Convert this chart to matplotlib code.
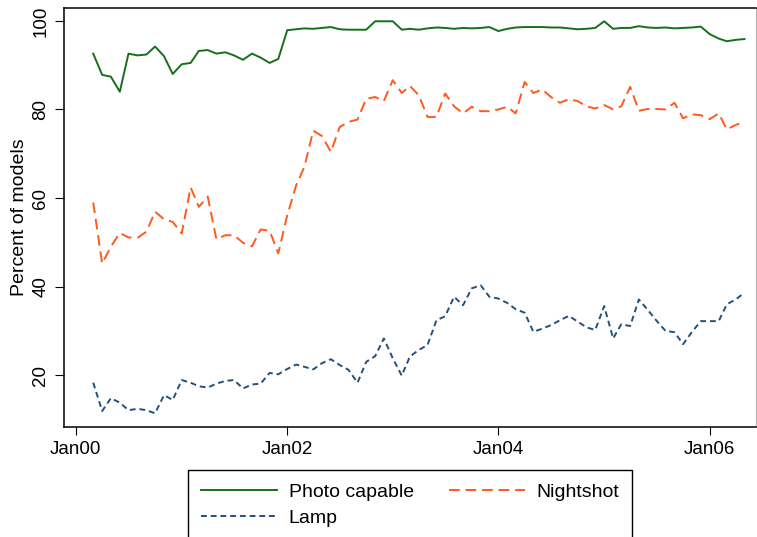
import matplotlib
matplotlib.use('Agg')
import matplotlib.pyplot as plt
import matplotlib.dates as mdates
import pandas as pd

plt.rcParams['font.family'] = ['Liberation Sans', 'DejaVu Sans']

# monthly observations, Mar 2000 - May 2006
months = pd.date_range('2000-03-01', periods=75, freq='MS')

photo_capable = [
    92.6, 87.8, 87.4, 84.0, 92.6, 92.2, 92.4, 94.2, 92.0, 88.0,              # 2000
    90.2, 90.5, 93.2, 93.4, 92.6, 92.9, 92.2, 91.2, 92.6, 91.7, 90.5, 91.4,  # 2001
    97.9, 98.1, 98.3, 98.2, 98.4, 98.6, 98.1, 98.0, 98.0, 98.0, 99.9, 99.9,  # 2002
    99.9, 98.0, 98.2, 98.0, 98.3, 98.5, 98.4, 98.2, 98.4, 98.3, 98.4, 98.6,  # 2003
    97.7, 98.2, 98.5, 98.6, 98.6, 98.6, 98.5, 98.5, 98.3, 98.1, 98.2, 98.4,  # 2004
    99.9, 98.2, 98.4, 98.4, 98.8, 98.5, 98.4, 98.5, 98.3, 98.4, 98.5, 98.7,  # 2005
    97.0, 96.0, 95.4, 95.7, 95.9,                                            # 2006
]
nightshot = [
    59.0, 45.2, 49.0, 52.1, 51.1, 51.0, 52.4, 56.9, 55.2, 54.6,
    52.0, 62.4, 58.0, 60.3, 50.7, 51.6, 51.6, 49.9, 49.1, 52.9, 52.6, 47.5,
    56.1, 62.9, 67.0, 75.2, 74.0, 70.4, 76.0, 77.2, 77.7, 82.4, 82.8, 81.9,
    86.6, 83.7, 85.3, 83.2, 78.3, 78.3, 83.6, 80.7, 79.1, 80.6, 79.6, 79.6,
    80.0, 80.6, 79.1, 86.2, 83.7, 84.5, 82.8, 81.5, 82.3, 81.9, 80.7, 80.2,
    81.0, 80.0, 80.7, 85.1, 79.7, 80.1, 80.1, 80.0, 81.5, 78.0, 78.9, 78.7,
    77.8, 79.1, 75.5, 76.5, 77.2,
]
lamp = [
    18.3, 11.9, 14.8, 13.8, 12.1, 12.4, 12.1, 11.4, 15.5, 14.4,
    18.9, 18.3, 17.5, 17.2, 18.1, 18.7, 18.9, 17.0, 17.9, 18.1, 20.5, 20.2,
    21.4, 22.4, 21.9, 21.3, 22.7, 23.6, 22.3, 21.2, 18.3, 23.0, 24.3, 28.3,
    23.8, 19.9, 24.2, 25.7, 26.8, 32.4, 33.3, 37.7, 35.8, 39.6, 40.3, 37.7,
    37.3, 36.3, 34.9, 34.1, 29.8, 30.5, 31.3, 32.4, 33.4, 32.1, 30.8, 30.2,
    35.6, 28.3, 31.5, 31.1, 37.1, 34.7, 32.3, 30.0, 29.7, 27.0, 29.8, 32.2,
    32.2, 32.2, 36.0, 37.1, 38.6,
]

xtick_dates = pd.to_datetime(['2000-01-01', '2002-01-01', '2004-01-01', '2006-01-01'])
xtick_labels = ['Jan00', 'Jan02', 'Jan04', 'Jan06']
yticks = [20, 40, 60, 80, 100]

fig = plt.figure(figsize=(7.57, 5.37), dpi=100)
ax = fig.add_axes([64 / 757, 110 / 537, 692 / 757, 419 / 537])

l1, = ax.plot(months, photo_capable, color='#16701a', lw=1.4, label='Photo capable')
l2, = ax.plot(months, nightshot, color='#ff5a1c', lw=1.4, dashes=(5.5, 3), label='Nightshot')
l3, = ax.plot(months, lamp, color='#24507c', lw=1.4, dashes=(3, 2), label='Lamp')

ax.set_xlim(pd.Timestamp('1999-11-21'), pd.Timestamp('2006-06-10'))
ax.set_ylim(8.3, 102.9)
ax.set_xticks(xtick_dates)
ax.set_xticklabels(xtick_labels)
ax.set_yticks(yticks)
ax.tick_params(axis='y', labelrotation=90, length=6.5, width=0.8, pad=4, labelsize=13.5)
ax.tick_params(axis='x', length=6, width=0.8, pad=4, labelsize=13.5)
for t in ax.get_yticklabels():
    t.set_va('center')

for s in ['left', 'bottom', 'top']:
    ax.spines[s].set_linewidth(1.1)
    ax.spines[s].set_color('black')
ax.spines['right'].set_color('#b0b0b0')

fig.text(20 / 757, 1 - 217.5 / 537, 'Percent of models', rotation=90,
         ha='center', va='center', fontsize=14)

leg = fig.legend([l1, l3, l2], ['Photo capable', 'Lamp', 'Nightshot'], ncol=2,
                 loc='upper center', bbox_to_anchor=(410 / 757, 1 - 470 / 537),
                 fontsize=14, handlelength=3.9, handletextpad=0.6, columnspacing=1.8,
                 labelspacing=0.45, borderpad=0.68, borderaxespad=0,
                 fancybox=False, framealpha=1)
leg.get_frame().set_edgecolor('black')
leg.get_frame().set_linewidth(1.0)

fig.savefig('out.png', dpi=100)
